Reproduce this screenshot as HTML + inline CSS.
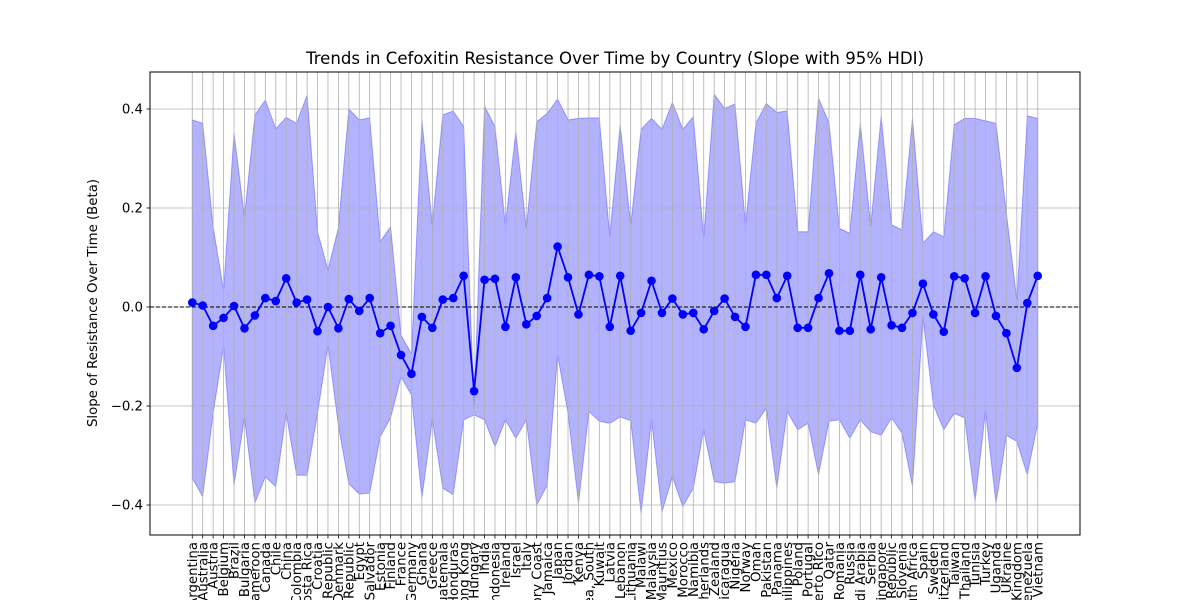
<!DOCTYPE html>
<html><head><meta charset="utf-8"><style>
html,body{margin:0;background:#fff;width:1200px;height:600px;overflow:hidden;}
svg{display:block;font-family:"DejaVu Sans","Liberation Sans",sans-serif;}
</style></head><body>
<svg id="chart" width="1200" height="600" viewBox="0 0 1200 600">
<rect x="0" y="0" width="1200" height="600" fill="#fff"/>
<text x="615" y="64" font-size="16.6" text-anchor="middle">Trends in Cefoxitin Resistance Over Time by Country (Slope with 95% HDI)</text>
<text transform="translate(97,303) rotate(-90)" font-size="13.3" text-anchor="middle">Slope of Resistance Over Time (Beta)</text>
<g id="plot"></g>
</svg>
<script>
const countries = ["Argentina","Australia","Austria","Belgium","Brazil","Bulgaria","Cameroon","Canada","Chile","China","Colombia","Costa Rica","Croatia","Czech Republic","Denmark","Dominican Republic","Egypt","El Salvador","Estonia","Finland","France","Germany","Ghana","Greece","Guatemala","Honduras","Hong Kong","Hungary","India","Indonesia","Ireland","Israel","Italy","Ivory Coast","Jamaica","Japan","Jordan","Kenya","Korea, South","Kuwait","Latvia","Lebanon","Lithuania","Malawi","Malaysia","Mauritius","Mexico","Morocco","Namibia","Netherlands","New Zealand","Nicaragua","Nigeria","Norway","Oman","Pakistan","Panama","Philippines","Poland","Portugal","Puerto Rico","Qatar","Romania","Russia","Saudi Arabia","Serbia","Singapore","Slovak Republic","Slovenia","South Africa","Spain","Sweden","Switzerland","Taiwan","Thailand","Tunisia","Turkey","Uganda","Ukraine","United Kingdom","Venezuela","Vietnam"];
const slopeMean = [0.009,0.003,-0.038,-0.022,0.002,-0.043,-0.017,0.018,0.012,0.058,0.009,0.015,-0.049,0.0,-0.043,0.016,-0.008,0.018,-0.053,-0.038,-0.097,-0.135,-0.02,-0.042,0.015,0.018,0.063,-0.17,0.055,0.057,-0.04,0.06,-0.035,-0.018,0.018,0.122,0.06,-0.015,0.065,0.062,-0.04,0.063,-0.048,-0.012,0.053,-0.012,0.017,-0.015,-0.012,-0.045,-0.008,0.017,-0.02,-0.04,0.065,0.065,0.018,0.063,-0.042,-0.042,0.018,0.068,-0.048,-0.048,0.065,-0.045,0.06,-0.037,-0.042,-0.012,0.047,-0.015,-0.05,0.062,0.058,-0.012,0.062,-0.018,-0.053,-0.123,0.008,0.063];
const hdiUpper = [0.378,0.371,0.162,0.034,0.351,0.182,0.388,0.418,0.36,0.383,0.371,0.428,0.152,0.075,0.16,0.40,0.378,0.382,0.132,0.162,-0.057,-0.094,0.378,0.166,0.388,0.396,0.364,-0.205,0.406,0.364,0.166,0.354,0.159,0.374,0.391,0.42,0.378,0.381,0.382,0.382,0.142,0.368,0.166,0.359,0.381,0.359,0.413,0.359,0.384,0.139,0.43,0.401,0.41,0.166,0.371,0.411,0.393,0.396,0.152,0.152,0.422,0.372,0.159,0.149,0.371,0.164,0.386,0.166,0.156,0.381,0.129,0.152,0.142,0.368,0.381,0.381,0.376,0.371,0.189,0.014,0.386,0.381];
const hdiLower = [-0.346,-0.383,-0.215,-0.08,-0.36,-0.224,-0.396,-0.343,-0.363,-0.215,-0.34,-0.34,-0.215,-0.077,-0.24,-0.357,-0.378,-0.376,-0.262,-0.224,-0.141,-0.178,-0.386,-0.228,-0.366,-0.379,-0.228,-0.218,-0.228,-0.282,-0.228,-0.265,-0.228,-0.4,-0.36,-0.097,-0.215,-0.397,-0.211,-0.231,-0.235,-0.222,-0.23,-0.417,-0.228,-0.414,-0.343,-0.403,-0.366,-0.248,-0.353,-0.356,-0.353,-0.228,-0.235,-0.205,-0.366,-0.211,-0.248,-0.235,-0.339,-0.231,-0.228,-0.265,-0.228,-0.252,-0.259,-0.224,-0.255,-0.363,-0.02,-0.198,-0.248,-0.215,-0.224,-0.393,-0.211,-0.397,-0.259,-0.272,-0.339,-0.235];
const yTicks = [-0.4,-0.2,0.0,0.2,0.4];
const yTickLabels = ["\u22120.4","\u22120.2","0.0","0.2","0.4"];

const NS = "http://www.w3.org/2000/svg";
const L = 150, R = 1080, T = 72, B = 535;
const n = countries.length;
const pad = (n - 1) * 0.05;
function xs(i){ return L + (i + pad) / ((n - 1) + 2 * pad) * (R - L); }
const yMin = -0.4606, yMax = 0.4747;
function ys(v){ return B - (v - yMin) / (yMax - yMin) * (B - T); }
const g = document.getElementById('plot');
function mk(tag, attrs){ const e = document.createElementNS(NS, tag); for (const k in attrs) e.setAttribute(k, attrs[k]); g.appendChild(e); return e; }

let pts = [];
for (let i = 0; i < n; i++) pts.push(xs(i).toFixed(1) + "," + ys(hdiUpper[i]).toFixed(1));
for (let i = n - 1; i >= 0; i--) pts.push(xs(i).toFixed(1) + "," + ys(hdiLower[i]).toFixed(1));
const band = mk('polygon', {points: pts.join(" "), fill: "#0000ff", "fill-opacity": "0.3", stroke: "#0000ff", "stroke-opacity": "0.3", "stroke-width": "1"});



for (let i = 0; i < n; i++) {
  const gl = mk('line', {x1: xs(i), x2: xs(i), y1: T, y2: B, stroke: "#b0b0b0", "stroke-width": "0.8"});
  
  
}
yTicks.forEach((v, k) => {
  const gl = mk('line', {x1: L, x2: R, y1: ys(v), y2: ys(v), stroke: "#b0b0b0", "stroke-width": "0.8"});
  
  
  const tk = mk('line', {x1: L - 3.5, x2: L, y1: ys(v), y2: ys(v), stroke: "#000", "stroke-width": "0.8"});
  
  
  const tl = mk('text', {x: L - 7, y: ys(v) + 4.5, "font-size": "13.3", "text-anchor": "end"});
  tl.textContent = yTickLabels[k];
  
  
});

const zl = mk('line', {x1: L, x2: R, y1: ys(0), y2: ys(0), stroke: "#000", "stroke-width": "1", "stroke-dasharray": "4,2"});



const lp = slopeMean.map((v, i) => xs(i).toFixed(1) + "," + ys(v).toFixed(1)).join(" ");
const ml = mk('polyline', {points: lp, fill: "none", stroke: "#0000ff", "stroke-width": "1.8"});


slopeMean.forEach((v, i) => {
  const c = mk('circle', {cx: xs(i), cy: ys(v), r: "4.3", fill: "#0000ff"});
  
  
});

countries.forEach((c, i) => {
  const tk = mk('line', {x1: xs(i), x2: xs(i), y1: B, y2: B + 3.5, stroke: "#000", "stroke-width": "0.8"});
  
  
  const t = mk('text', {transform: "translate(" + (xs(i) + 4.6).toFixed(1) + "," + (B + 7) + ") rotate(-90)", "font-size": "13.3", "text-anchor": "end"});
  t.textContent = c;
  
  
});

const fr = mk('rect', {x: L, y: T, width: R - L, height: B - T, fill: "none", stroke: "#000", "stroke-width": "1"});


</script>
</body></html>
